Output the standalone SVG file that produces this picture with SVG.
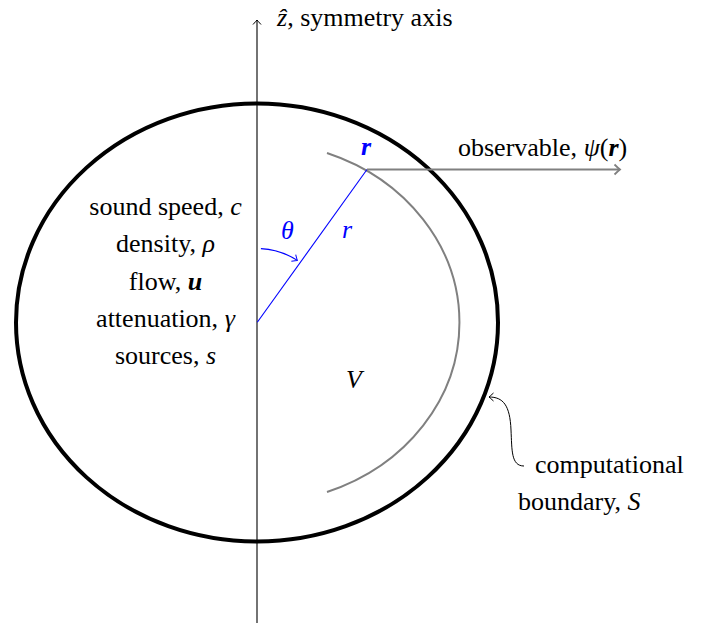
<svg xmlns="http://www.w3.org/2000/svg" width="706" height="623" viewBox="0 0 706 623">
<style>
text{font-family:"Liberation Serif","Times New Roman",serif;font-size:26px;fill:#000}
.it{font-style:italic}
.bf{font-weight:bold;font-style:italic}
.blue{fill:#0000ff}
.mid{text-anchor:middle}
</style>
<defs>
<marker id="toK" markerUnits="userSpaceOnUse" markerWidth="12" markerHeight="12" viewBox="-6 -6 12 12" refX="0" refY="0" orient="auto"><path d="M-4.5,-4 Q-1.2,-1 0,0 Q-1.2,1 -4.5,4" fill="none" stroke="#000" stroke-width="1"/></marker>
<marker id="toG" markerUnits="userSpaceOnUse" markerWidth="14" markerHeight="14" viewBox="-7 -7 14 14" refX="0" refY="0" orient="auto"><path d="M-5.5,-5 Q-1.5,-1.2 0,0 Q-1.5,1.2 -5.5,5" fill="none" stroke="#808080" stroke-width="1.8"/></marker>
<marker id="toB" markerUnits="userSpaceOnUse" markerWidth="12" markerHeight="12" viewBox="-6 -6 12 12" refX="0" refY="0" orient="auto"><path d="M-4.5,-4 Q-1.2,-1 0,0 Q-1.2,1 -4.5,4" fill="none" stroke="#0000ff" stroke-width="1"/></marker>
</defs>
<g id="domain">
<ellipse cx="257" cy="322.5" rx="241" ry="219" fill="none" stroke="#000" stroke-width="4"/>
</g>
<g id="observation-surface">
<path d="M327,153 A204,181 0 0 1 327,492" fill="none" stroke="#808080" stroke-width="2"/>
</g>
<g id="connectors">
<line x1="257" y1="623" x2="257" y2="20" stroke="#000" stroke-width="1.1" marker-end="url(#toK)"/>
<line x1="257.3" y1="322.3" x2="367" y2="169.5" stroke="#0000ff" stroke-width="1.1"/>
<path d="M260.9,248.6 A74,74 0 0 1 297.3,260.4" fill="none" stroke="#0000ff" stroke-width="1.1" marker-end="url(#toB)"/>
<line x1="367" y1="169.5" x2="620" y2="169.5" stroke="#808080" stroke-width="2" marker-end="url(#toG)"/>
<path d="M524,466 C511,466 512,450 511,430 C510,405 503,397 489,397" fill="none" stroke="#000" stroke-width="1" marker-end="url(#toK)"/>
</g>
<g id="axis-label">
<text x="277" y="26"><tspan class="it">ẑ</tspan>, symmetry axis</text>
</g>
<g id="properties">
<text class="mid" x="165.5" y="215">sound speed, <tspan class="it">c</tspan></text>
<text class="mid" x="165.5" y="252">density, <tspan class="it">ρ</tspan></text>
<text class="mid" x="165.5" y="290">flow, <tspan class="bf">u</tspan></text>
<text class="mid" x="165.5" y="327">attenuation, <tspan class="it">γ</tspan></text>
<text class="mid" x="165.5" y="364">sources, <tspan class="it">s</tspan></text>
</g>
<g id="position-labels">
<text class="bf blue" x="361" y="155">r</text>
<text class="it blue" x="281" y="239">θ</text>
<text class="it blue" x="342" y="238">r</text>
<text class="it" x="346" y="388">V</text>
</g>
<g id="observable-label">
<text x="458" y="156">observable, <tspan class="it">ψ</tspan>(<tspan class="bf">r</tspan>)</text>
</g>
<g id="boundary-label">
<text x="535" y="473">computational</text>
<text x="518" y="510">boundary, <tspan class="it">S</tspan></text>
</g>
</svg>
